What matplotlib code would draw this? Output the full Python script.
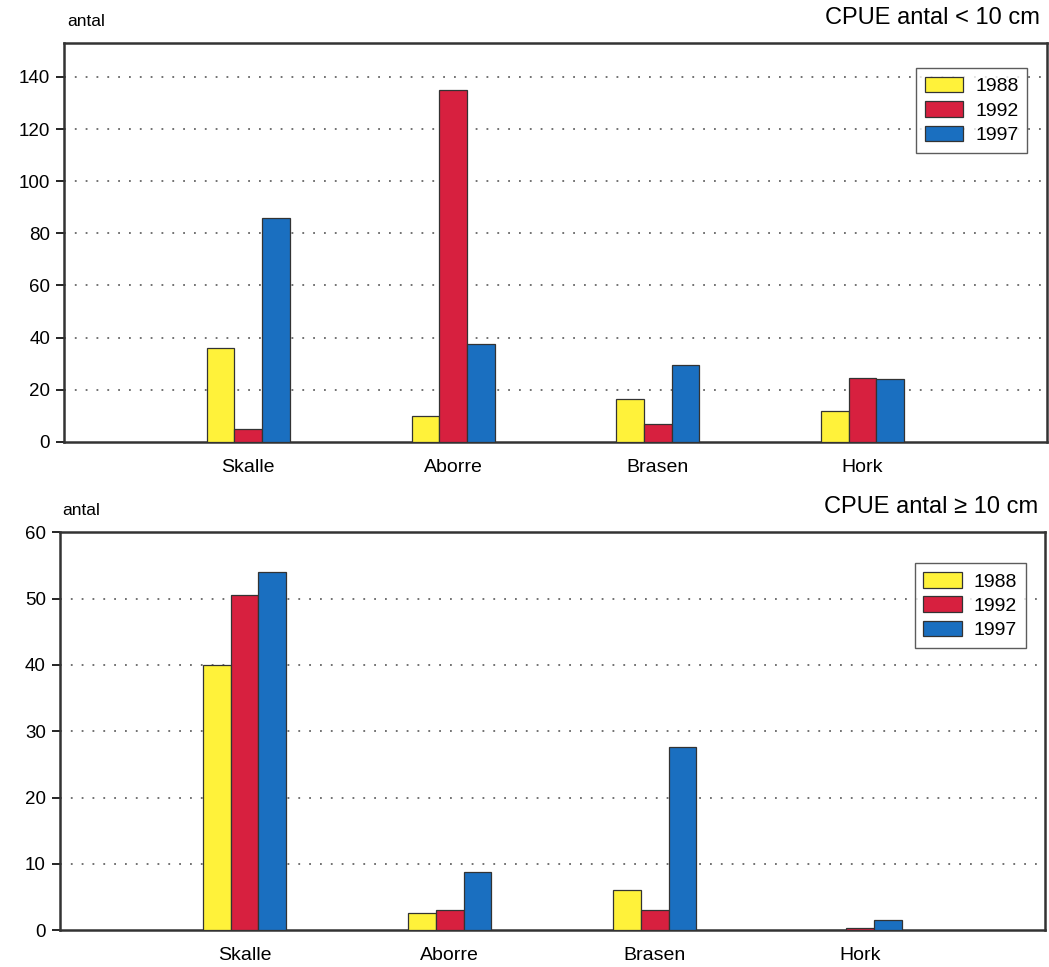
import numpy as np
import matplotlib.pyplot as plt

plt.rcParams['font.family'] = ['Liberation Sans', 'DejaVu Sans']

# data
arter = ["Skalle", "Aborre", "Brasen", "Hork"]
ar = ["1988", "1992", "1997"]
farger = ["#FFF23A", "#D7203F", "#1A6FC0"]

# CPUE antal < 10 cm
small_1988 = [36, 10, 16.5, 12]
small_1992 = [5, 135, 7, 24.5]
small_1997 = [86, 37.5, 29.5, 24]

# CPUE antal >= 10 cm
big_1988 = [40, 2.6, 6.1, 0]
big_1992 = [50.5, 3.1, 3.0, 0.4]
big_1997 = [54, 8.8, 27.7, 1.6]

fig = plt.figure(figsize=(10.49, 9.67), dpi=100)
ax1 = fig.add_axes([0.061, 0.543, 0.937, 0.4125])
ax2 = fig.add_axes([0.057, 0.038, 0.939, 0.4116])

x = np.arange(len(arter))
w = 0.135


def rita(ax, serier, ymax, yticks, titel, leg_pos):
    for i, (vals, c, lab) in enumerate(zip(serier, farger, ar)):
        ax.bar(x + (i - 1) * w, vals, width=w, color=c, edgecolor="#333333",
               linewidth=0.9, label=lab, zorder=3)
    ax.set_xlim(-0.9, 3.9)
    ax.set_ylim(0, ymax)
    ax.set_yticks(yticks)
    ax.set_xticks(x)
    ax.set_xticklabels(arter, fontsize=14)
    ax.tick_params(axis="x", length=0, pad=12)
    ax.tick_params(axis="y", length=6, width=1.2, labelsize=13.5, pad=4)
    for t in yticks[1:]:
        if t < ymax:
            ax.axhline(t, color="#666666", linestyle=(0, (1, 5)), linewidth=1.3, zorder=1)
    for s in ax.spines.values():
        s.set_linewidth(1.8)
        s.set_color("#333333")
    ax.text(0.003, 1.035, "antal", transform=ax.transAxes, fontsize=12.5,
            ha="left", va="bottom")
    ax.text(0.993, 1.035, titel, transform=ax.transAxes, fontsize=17,
            ha="right", va="bottom")
    leg = ax.legend(loc="upper right", bbox_to_anchor=leg_pos, borderaxespad=0,
                    fontsize=14, frameon=True, fancybox=False, handlelength=2.0,
                    handleheight=0.85, labelspacing=0.3, borderpad=0.45,
                    handletextpad=0.6)
    leg.get_frame().set_edgecolor("#333333")
    leg.get_frame().set_linewidth(1.0)


rita(ax1, [small_1988, small_1992, small_1997], 153, list(range(0, 141, 20)),
     "CPUE antal < 10 cm", (0.98, 0.937))
rita(ax2, [big_1988, big_1992, big_1997], 60, list(range(0, 61, 10)),
     "CPUE antal \u2265 10 cm", (0.981, 0.922))

fig.savefig("out.png", dpi=100)
